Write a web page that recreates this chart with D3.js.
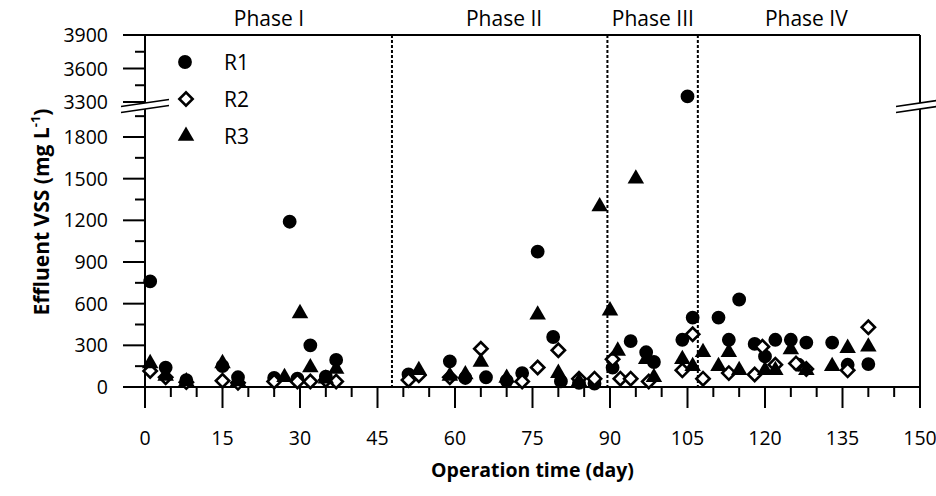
<!DOCTYPE html>
<html>
<head>
<meta charset="utf-8">
<script src="https://cdn.jsdelivr.net/npm/d3@7"></script>
<style>
  html, body { margin: 0; padding: 0; background: #fff; }
  svg text { font-family: "Open Sans", "Noto Sans", sans-serif; fill: #000; }
</style>
</head>
<body>
<svg id="chart" width="936" height="496"></svg>
<script>
// effluent VSS (mg/L) per operation day
const r1 = [
  [1, 760], [4, 140], [8, 50], [15, 150], [18, 70], [25, 65], [28, 1190], [29.5, 60],
  [32, 300], [35, 75], [37, 195],
  [51, 90], [59, 185], [62, 65], [66, 70], [70, 45], [73, 100], [76, 975], [79, 360],
  [80.5, 40], [84, 30], [87, 25],
  [90.5, 140], [94, 330], [97, 250], [98.5, 180], [104, 340], [105, 3350], [106, 500],
  [111, 500], [113, 340], [115, 630], [118, 310], [120, 220], [122, 340], [125, 340],
  [126.5, 160], [128, 320], [133, 320], [136, 160], [140, 165]
];
const r2 = [
  [1, 115], [4, 70], [8, 35], [15, 45], [18, 30], [25, 40], [29.5, 40], [32, 40],
  [35, 50], [37, 40],
  [51, 50], [53, 85], [59, 70], [65, 275], [73, 40], [76, 140], [80, 265], [84, 60], [87, 60],
  [90.5, 200], [92, 60], [94, 60], [97.5, 40], [104, 120], [106, 380], [108, 60],
  [113, 100], [118, 90], [119.5, 290], [122, 160], [126, 170], [128, 130], [136, 120], [140, 430]
];
const r3 = [
  [1, 170], [4, 80], [8, 40], [15, 170], [18, 40], [27, 70], [30, 530], [32, 140],
  [35, 60], [37, 130],
  [53, 120], [59, 80], [62, 90], [65, 180], [70, 65], [76, 520], [80, 100], [84, 40], [88, 1300],
  [90, 550], [91.5, 260], [95, 1500], [97, 200], [98.5, 70], [104, 200], [106, 150], [108, 250],
  [111, 150], [113, 250], [115, 120], [120, 120], [122, 120], [125, 270], [128, 120],
  [133, 150], [136, 280], [140, 290]
];

const xTicks = d3.range(0, 151, 15);
const lowerTicks = [0, 300, 600, 900, 1200, 1500, 1800];
const upperTicks = [3300, 3600, 3900];
const phaseBounds = [47.8, 89.5, 107];
const phases = [["Phase I", 24], ["Phase II", 69.5], ["Phase III", 98.3], ["Phase IV", 128]];

const svg = d3.select("#chart");
const plotL = 145, plotR = 920, plotT = 35, plotB = 387;

const x = d3.scaleLinear().domain([0, 150]).range([plotL, plotR]);
const yLow = d3.scaleLinear().domain([0, 1800]).range([plotB, 137]);
const yUp = d3.scaleLinear().domain([3300, 3900]).range([102, plotT]);
const y = v => v >= 3300 ? yUp(v) : yLow(v);

const g = svg.append("g");

// frame lines
g.append("line").attr("x1", 123).attr("x2", plotR).attr("y1", plotB).attr("y2", plotB)
  .attr("stroke", "#000").attr("stroke-width", 2);
g.append("line").attr("x1", 123).attr("x2", plotR).attr("y1", plotT).attr("y2", plotT)
  .attr("stroke", "#000").attr("stroke-width", 2);
[plotL, plotR].forEach(px => {
  g.append("line").attr("x1", px).attr("x2", px).attr("y1", plotT).attr("y2", plotB)
    .attr("stroke", "#000").attr("stroke-width", 2);
});

// x ticks
d3.range(0, 151, 5).forEach(d => {
  const major = d % 15 === 0;
  g.append("line").attr("x1", x(d)).attr("x2", x(d))
    .attr("y1", plotB).attr("y2", plotB + (major ? 21 : 10))
    .attr("stroke", "#000").attr("stroke-width", 2);
});
g.selectAll(".xl").data(xTicks).enter().append("text")
  .attr("x", d => x(d)).attr("y", 445)
  .attr("text-anchor", "middle").attr("font-size", 19.5)
  .text(d => d);

// y ticks: lower segment
d3.range(0, 1951, 150).forEach(v => {
  const major = v % 300 === 0 && v <= 1800;
  g.append("line").attr("x1", plotL - (major ? 22 : 10)).attr("x2", plotL)
    .attr("y1", yLow(v)).attr("y2", yLow(v))
    .attr("stroke", "#000").attr("stroke-width", 2);
});
[3450, 3750].forEach(v => {
  g.append("line").attr("x1", plotL - 10).attr("x2", plotL)
    .attr("y1", yUp(v)).attr("y2", yUp(v)).attr("stroke", "#000").attr("stroke-width", 2);
});
upperTicks.forEach(v => {
  g.append("line").attr("x1", plotL - 22).attr("x2", plotL)
    .attr("y1", yUp(v)).attr("y2", yUp(v)).attr("stroke", "#000").attr("stroke-width", 2);
});
g.selectAll(".yl").data(lowerTicks.concat(upperTicks)).enter().append("text")
  .attr("x", 108).attr("y", d => y(d) + 7)
  .attr("text-anchor", "end").attr("font-size", 19.5)
  .text(d => d);

// axis breaks
[plotL, plotR].forEach(cx => {
  const hw = 24, dy = 3.5, y1 = 103, y2 = 109;
  g.append("polygon")
    .attr("points", [[cx - hw, y1 + dy], [cx + hw, y1 - dy], [cx + hw, y2 - dy], [cx - hw, y2 + dy]].join(" "))
    .attr("fill", "#fff");
  [y1, y2].forEach(yy => {
    g.append("line").attr("x1", cx - hw).attr("x2", cx + hw)
      .attr("y1", yy + dy).attr("y2", yy - dy)
      .attr("stroke", "#000").attr("stroke-width", 1.6);
  });
});

// phase separators
phaseBounds.forEach(d => {
  g.append("line").attr("x1", x(d)).attr("x2", x(d)).attr("y1", plotT).attr("y2", plotB)
    .attr("stroke", "#000").attr("stroke-width", 2).attr("stroke-dasharray", "3,2");
});
phases.forEach(([label, d]) => {
  g.append("text").attr("x", x(d)).attr("y", 26).attr("text-anchor", "middle")
    .attr("font-size", 21).text(label);
});

// markers
const circle = d3.symbol(d3.symbolCircle, 150);
const square = d3.symbol(d3.symbolSquare, 88);
const tri = d3.symbol(d3.symbolTriangle, 118);

function drawSeries(data, kind) {
  const sel = g.append("g").selectAll("path").data(data).enter().append("path");
  if (kind === "r1") {
    sel.attr("d", circle).attr("fill", "#000")
      .attr("transform", d => `translate(${x(d[0])},${y(d[1])})`);
  } else if (kind === "r2") {
    sel.attr("d", square).attr("fill", "#fff").attr("stroke", "#000").attr("stroke-width", 2.6)
      .attr("transform", d => `translate(${x(d[0])},${y(d[1])}) rotate(45)`);
  } else {
    sel.attr("d", tri).attr("fill", "#000")
      .attr("transform", d => `translate(${x(d[0])},${y(d[1])})`);
  }
}
drawSeries(r1, "r1");
drawSeries(r2, "r2");
drawSeries(r3, "r3");

// legend
const legend = [["R1", "r1", 62], ["R2", "r2", 99], ["R3", "r3", 136]];
legend.forEach(([label, kind, ly]) => {
  const p = g.append("path");
  if (kind === "r1") p.attr("d", circle).attr("fill", "#000").attr("transform", `translate(185,${ly})`);
  else if (kind === "r2") p.attr("d", square).attr("fill", "#fff").attr("stroke", "#000")
    .attr("stroke-width", 2.6).attr("transform", `translate(186,${ly}) rotate(45)`);
  else p.attr("d", tri).attr("fill", "#000").attr("transform", `translate(186,${ly})`);
  g.append("text").attr("x", 224).attr("y", ly + 7.5).attr("font-size", 21).text(label);
});

// axis titles
g.append("text").attr("x", (plotL + plotR) / 2).attr("y", 477).attr("text-anchor", "middle")
  .attr("font-size", 19.5).attr("font-weight", "bold").text("Operation time (day)");

const yt = g.append("text").attr("transform", "translate(49,212) rotate(-90)")
  .attr("text-anchor", "middle").attr("font-size", 21).attr("font-weight", "bold");
yt.append("tspan").text("Effluent VSS  (mg L");
yt.append("tspan").attr("font-size", 13).attr("dy", -9).text("-1");
yt.append("tspan").attr("dy", 9).text(")");
</script>
</body>
</html>
